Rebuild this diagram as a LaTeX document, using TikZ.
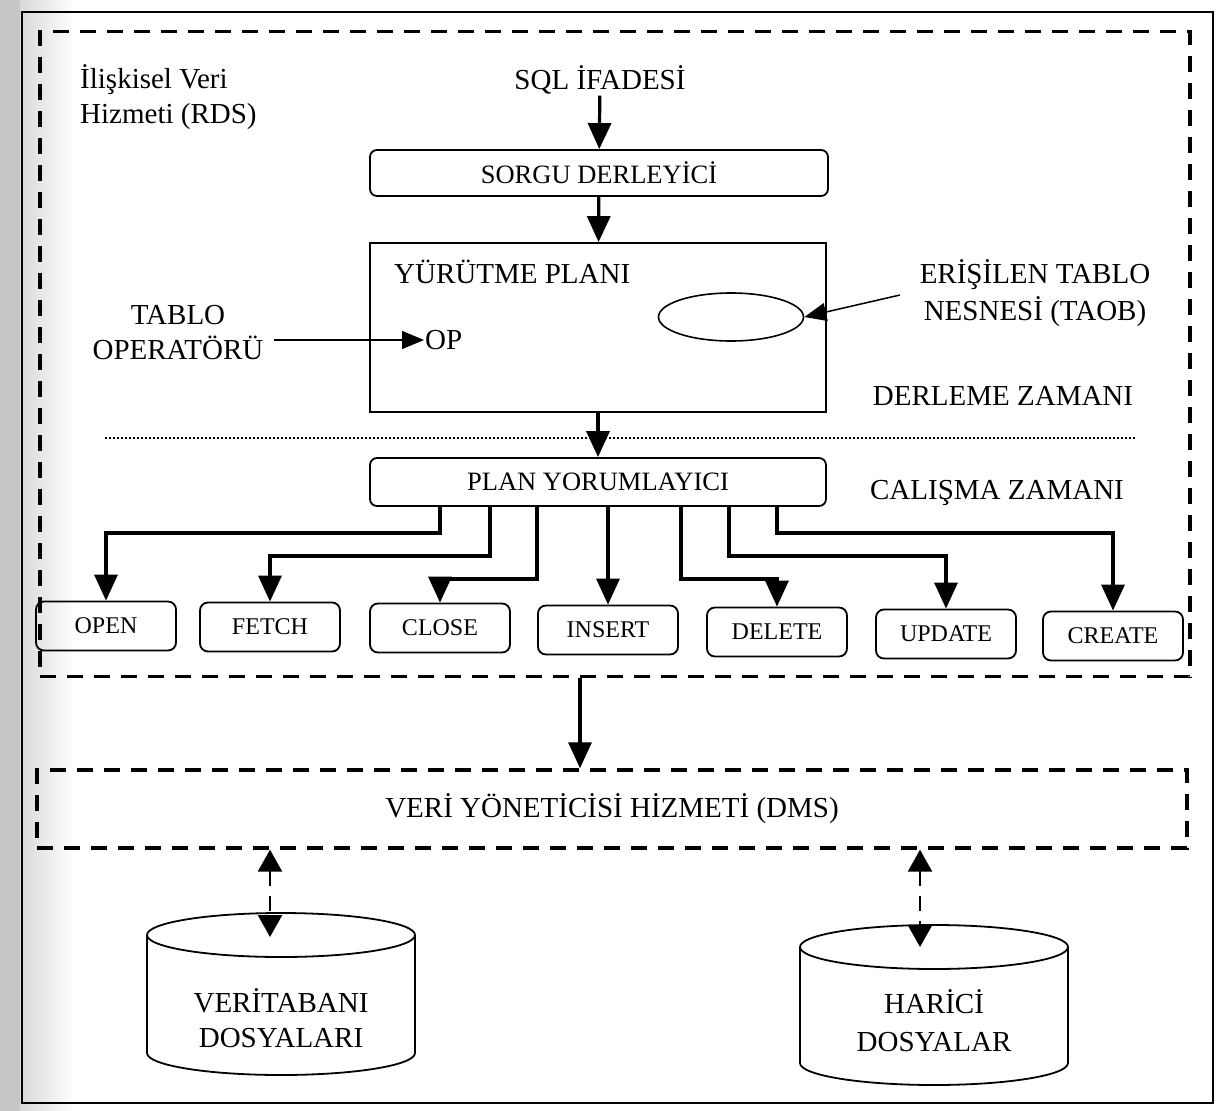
\documentclass[tikz,border=0pt]{standalone}
\usepackage{fontspec}
\setmainfont{Liberation Serif}
\usetikzlibrary{arrows.meta,shapes.geometric,calc}

\begin{document}
\begin{tikzpicture}[x=1pt,y=-1pt,
  lbl/.style={inner sep=1pt, font=\fontsize{29}{35}\selectfont, align=center},
  roundbox/.style={draw, line width=1.8pt, rounded corners=7pt, inner sep=0pt,
    font=\fontsize{26.5}{30}\selectfont},
  opbox/.style={draw, line width=1.8pt, rounded corners=8pt, inner sep=0pt,
    minimum width=140pt, minimum height=49pt, font=\fontsize{24}{28}\selectfont},
  flow/.style={line width=3.2pt, -{Triangle[length=26pt,width=23pt]}},
  thinflow/.style={line width=1.5pt, -{Triangle[length=22pt,width=18pt]}},
  dashbox/.style={draw, line width=3.4pt, dash pattern=on 16pt off 11pt, inner sep=0pt},
  dblflow/.style={line width=2.6pt, dash pattern=on 15pt off 10pt,
    {Triangle[length=22pt,width=24pt]}-{Triangle[length=22pt,width=24pt]}},
  cyl/.style={draw, line width=1.8pt, fill=white}
]
\useasboundingbox (0,0) rectangle (1219,1111);

% page edge and outer frame
\shade[left color=gray!30, right color=white] (20,0) rectangle (75,1111);
\fill[gray!45] (0,0) rectangle (20,1111);
\draw[line width=1.8pt] (22,12) rectangle (1213,1103);

% relational data service container
\node[dashbox, minimum width=1150pt, minimum height=645pt] (rds) at (615,354) {};
\node[lbl, align=left, anchor=west] (rdslbl) at (79,97) {İlişkisel Veri\\Hizmeti (RDS)};

% compile-time part
\node[lbl] (sql) at (600,80) {SQL İFADESİ};
\node[roundbox, minimum width=458pt, minimum height=46pt] (sorgu) at (599,173) {SORGU DERLEYİCİ};
\node[draw, line width=1.8pt, minimum width=456pt, minimum height=169pt, inner sep=0pt] (plan) at (598,327.5) {};
\node[lbl, anchor=west] (yurutme) at (393,272) {YÜRÜTME PLANI};
\node[draw, ellipse, line width=1.6pt, minimum width=145pt, minimum height=48pt, inner sep=0pt] (taob) at (731,317) {};
\node[lbl, font=\fontsize{29}{37}\selectfont] (erisilen) at (1035,293) {ERİŞİLEN TABLO\\NESNESİ (TAOB)};
\coordinate (taobsrc) at (900,295);
\node[lbl, anchor=west] (op) at (424,340) {OP};
\node[lbl] (tablo) at (178,333) {TABLO\\OPERATÖRÜ};
\node[lbl] (derleme) at (1003,396) {DERLEME ZAMANI};

\draw[flow] (sql) -- (sorgu);
\draw[flow] (sorgu) -- (plan);
\draw[thinflow] (taobsrc) -- (taob.east);
\draw[thinflow] ([xshift=9pt]tablo.east |- op.west) -- (op.west);

% compile time / run time separator
\coordinate (sepL) at (105,438);
\coordinate (sepR) at (1135,438);
\draw[line width=2.2pt, dash pattern=on 2pt off 2pt] (sepL) -- (sepR);

% run-time part
\node[roundbox, minimum width=456pt, minimum height=48pt] (yorum) at (598,482) {PLAN YORUMLAYICI};
\node[lbl] (calisma) at (997,493) {CALIŞMA ZAMANI};
\draw[flow] (plan) -- (yorum);

\node[opbox] (open)   at (106,626) {OPEN};
\node[opbox] (fetch)  at (270,627) {FETCH};
\node[opbox] (close)  at (440,628) {CLOSE};
\node[opbox] (insert) at (608,630) {INSERT};
\node[opbox] (delete) at (777,632) {DELETE};
\node[opbox] (update) at (946,634) {UPDATE};
\node[opbox] (create) at (1113,636) {CREATE};

\draw[flow] ([xshift=-158pt]yorum.south) -- ++(0,26) -| (open.north);
\draw[flow] ([xshift=-108pt]yorum.south) -- ++(0,49) -| (fetch.north);
\draw[flow] ([xshift=-61pt]yorum.south) -- ++(0,72) -| (close.north);
\draw[flow] (yorum.south -| insert.north) -- (insert.north);
\draw[flow] ([xshift=83pt]yorum.south) -- ++(0,72) -| (delete.north);
\draw[flow] ([xshift=131pt]yorum.south) -- ++(0,49) -| (update.north);
\draw[flow] ([xshift=179pt]yorum.south) -- ++(0,26) -| (create.north);

% data manager service
\node[dashbox, minimum width=1150pt, minimum height=78pt, font=\fontsize{29}{32}\selectfont] (dms) at (612,809) {VERİ YÖNETİCİSİ HİZMETİ (DMS)};
\draw[flow] ([xshift=-35pt]rds.south) -- ([xshift=-32pt]dms.north);

% database files cylinder
\draw[cyl] (147,935) -- (147,1053) arc[start angle=180, end angle=0, x radius=134, y radius=22] -- (415,935);
\draw[cyl] (281,935) ellipse[x radius=134, y radius=22];
\node[lbl, font=\fontsize{29}{35}\selectfont] (dbfiles) at (281,1018) {VERİTABANI\\DOSYALARI};
\coordinate (dbtop) at (270,937);

% external files cylinder
\draw[cyl] (800,947) -- (800,1063) arc[start angle=180, end angle=0, x radius=134, y radius=22] -- (1068,947);
\draw[cyl] (934,947) ellipse[x radius=134, y radius=22];
\node[lbl, font=\fontsize{29}{38}\selectfont] (extfiles) at (934,1021) {HARİCİ\\DOSYALAR};
\coordinate (exttop) at (920,947);

\draw[dblflow] (dms.south -| dbtop) -- (dbtop);
\draw[dblflow] (dms.south -| exttop) -- (exttop);
\end{tikzpicture}
\end{document}
